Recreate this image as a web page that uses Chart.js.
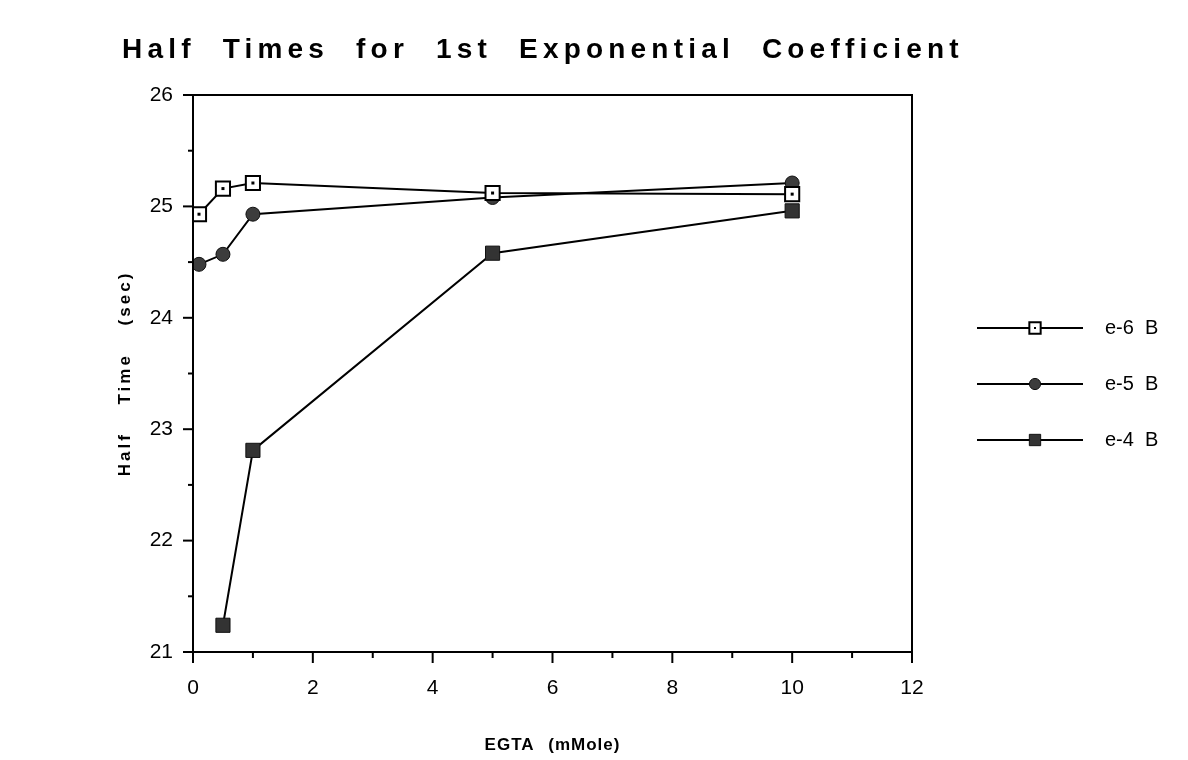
<!DOCTYPE html>
<html>
<head>
<meta charset="utf-8">
<script src="https://cdn.jsdelivr.net/npm/chart.js@4.4.1/dist/chart.umd.min.js"></script>
<style>
  html, body { margin: 0; padding: 0; background: #fff; }
  #wrap { width: 1188px; height: 760px; position: relative; }
</style>
</head>
<body>
<div id="wrap"><canvas id="halfTimes"></canvas></div>
<script>
// EGTA concentrations (mMole)
const egta = [0.1, 0.5, 1, 5, 10];
const egtaE4 = [0.5, 1, 5, 10];

// half times (sec)
const e6B = [24.93, 25.16, 25.21, 25.12, 25.11];
const e5B = [24.48, 24.57, 24.93, 25.08, 25.21];
const e4B = [21.24, 22.81, 24.58, 24.96];

const seriesNames = ["e-6  B", "e-5  B", "e-4  B"];

const chartTitle = "Half Times for 1st Exponential Coefficient";
const xTitle = "EGTA (mMole)";
const yTitle = "Half Time (sec)";

const FONT = "'Liberation Sans', Arial, Helvetica, sans-serif";

function pts(xs, ys) {
  return xs.map((x, i) => ({ x: x, y: ys[i] }));
}

// titles, frame, tick marks and legend
const decorPlugin = {
  id: "decor",
  afterDatasetsDraw(chart) {
    const ctx = chart.ctx;
    const meta = chart.getDatasetMeta(0);
    ctx.save();
    ctx.fillStyle = "#000";
    meta.data.forEach((p) => {
      ctx.fillRect(p.x - 1.5, p.y - 1.5, 3, 3);
    });
    ctx.restore();
  },
  afterDraw(chart) {
    const ctx = chart.ctx;
    const a = chart.chartArea;
    const xs = chart.scales.x;
    const ys = chart.scales.y;
    ctx.save();

    // frame
    ctx.strokeStyle = "#000";
    ctx.lineWidth = 2;
    ctx.strokeRect(a.left, a.top, a.right - a.left, a.bottom - a.top);

    // x tick marks
    for (let v = 0; v <= 12; v += 1) {
      const px = xs.getPixelForValue(v);
      const len = v % 2 === 0 ? 11 : 6;
      ctx.beginPath();
      ctx.moveTo(px, a.bottom);
      ctx.lineTo(px, a.bottom + len);
      ctx.stroke();
    }
    // y tick marks
    for (let v = 21; v <= 26.001; v += 0.5) {
      const py = ys.getPixelForValue(v);
      const len = Math.abs(v - Math.round(v)) < 0.01 ? 10 : 5;
      ctx.beginPath();
      ctx.moveTo(a.left, py);
      ctx.lineTo(a.left - len, py);
      ctx.stroke();
    }

    // main title
    ctx.fillStyle = "#000";
    ctx.textBaseline = "alphabetic";
    ctx.textAlign = "left";
    ctx.font = "bold 28px " + FONT;
    ctx.letterSpacing = "5.2px";
    ctx.wordSpacing = "14px";
    ctx.fillText(chartTitle, 122, 58);

    // x axis title
    ctx.font = "bold 17px " + FONT;
    ctx.letterSpacing = "1px";
    ctx.wordSpacing = "8px";
    ctx.textAlign = "center";
    ctx.textBaseline = "middle";
    ctx.fillText(xTitle, (a.left + a.right) / 2, 745);

    // y axis title
    ctx.save();
    ctx.translate(125, (a.top + a.bottom) / 2);
    ctx.rotate(-Math.PI / 2);
    ctx.letterSpacing = "3px";
    ctx.wordSpacing = "20px";
    ctx.fillText(yTitle, 0, 0);
    ctx.restore();

    // legend
    ctx.letterSpacing = "0px";
    ctx.wordSpacing = "0px";
    const rows = [328, 384, 440];
    chart.data.datasets.forEach((ds, i) => {
      const y = rows[i];
      ctx.strokeStyle = "#000";
      ctx.lineWidth = 2;
      ctx.beginPath();
      ctx.moveTo(977, y);
      ctx.lineTo(1083, y);
      ctx.stroke();
      ctx.fillStyle = ds.pointBackgroundColor;
      ctx.strokeStyle = ds.pointBorderColor;
      ctx.lineWidth = ds.pointBorderWidth;
      Chart.helpers.drawPoint(ctx, {
        pointStyle: ds.pointStyle,
        radius: ds.pointRadius * 0.8,
        rotation: 0,
        borderWidth: ds.pointBorderWidth
      }, 1035, y);
      if (i === 0) {
        ctx.fillStyle = "#000";
        ctx.fillRect(1034, y - 1, 2, 2);
      }
      ctx.fillStyle = "#000";
      ctx.font = "20px " + FONT;
      ctx.textAlign = "left";
      ctx.textBaseline = "middle";
      ctx.fillText(seriesNames[i], 1105, y);
    });

    ctx.restore();
  }
};

const ctx = document.getElementById("halfTimes").getContext("2d");
const halfChart = new Chart(ctx, {
  type: "scatter",
  data: {
    datasets: [
      {
        label: seriesNames[0],
        data: pts(egta, e6B),
        showLine: true,
        borderColor: "#000",
        borderWidth: 2,
        pointStyle: "rect",
        pointRadius: 10,
        pointBackgroundColor: "#fff",
        pointBorderColor: "#000",
        pointBorderWidth: 2
      },
      {
        label: seriesNames[1],
        data: pts(egta, e5B),
        showLine: true,
        borderColor: "#000",
        borderWidth: 2,
        pointStyle: "circle",
        pointRadius: 7,
        pointBackgroundColor: "#3c3c3c",
        pointBorderColor: "#111",
        pointBorderWidth: 1
      },
      {
        label: seriesNames[2],
        data: pts(egtaE4, e4B),
        showLine: true,
        borderColor: "#000",
        borderWidth: 2,
        pointStyle: "rect",
        pointRadius: 10,
        pointBackgroundColor: "#333",
        pointBorderColor: "#111",
        pointBorderWidth: 1
      }
    ]
  },
  options: {
    responsive: true,
    maintainAspectRatio: false,
    animation: false,
    layout: { padding: { top: 95, right: 276, left: 0, bottom: 0 } },
    plugins: {
      legend: { display: false },
      title: { display: false },
      tooltip: { enabled: false }
    },
    scales: {
      x: {
        type: "linear",
        min: 0,
        max: 12,
        grid: { display: false, drawTicks: false },
        border: { display: false },
        ticks: {
          stepSize: 2,
          padding: 24,
          color: "#000",
          font: { family: FONT, size: 21 }
        },
        afterFit(scale) { scale.height = 108; }
      },
      y: {
        type: "linear",
        min: 21,
        max: 26,
        grid: { display: false, drawTicks: false },
        border: { display: false },
        ticks: {
          stepSize: 1,
          padding: 20,
          color: "#000",
          font: { family: FONT, size: 21 }
        },
        afterFit(scale) { scale.width = 193; }
      }
    }
  },
  plugins: [decorPlugin]
});
</script>
</body>
</html>
